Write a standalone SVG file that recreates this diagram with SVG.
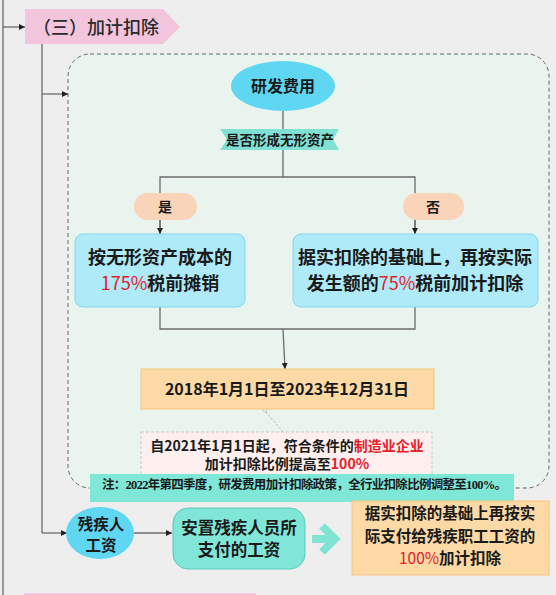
<svg xmlns="http://www.w3.org/2000/svg" width="556" height="595" viewBox="0 0 556 595">
<defs>
<marker id="ah" viewBox="0 0 6 6" refX="6" refY="3" markerWidth="6" markerHeight="6" markerUnits="userSpaceOnUse" orient="auto">
<path d="M0,0 L6,3 L0,6 Z" fill="#222"/>
</marker>
<style>
.t{font-family:"Noto Sans CJK SC","Noto Sans",sans-serif;font-weight:bold;fill:#1a1a1a;text-anchor:middle}
.r{fill:#e3202c}
.ln{fill:none;stroke:#6b6b6b;stroke-width:1.3}
.blue{fill:#aeeaf8;stroke:#86d6ea;stroke-width:1}
.org{fill:#fcd9a5;stroke:#f4c67c;stroke-width:1}
.pill{fill:#f9d4b8}
.cyan{fill:#5fd7f2}
</style>
</defs>
<rect x="0" y="0" width="556" height="595" fill="#efeeef"/>

<g id="container">
<rect x="68" y="54" width="481" height="434" rx="22" fill="#e9f4ee" stroke="#666" stroke-width="1" stroke-dasharray="4,3"/>
</g>

<g id="connectors">
<line class="ln" x1="3" y1="0" x2="3" y2="595"/>
<line class="ln" x1="3" y1="27" x2="25" y2="27" marker-end="url(#ah)"/>
<line class="ln" x1="42" y1="44" x2="42" y2="533"/>
<line class="ln" x1="42" y1="94" x2="68" y2="94" marker-end="url(#ah)"/>
<line class="ln" x1="42" y1="533" x2="67" y2="533" marker-end="url(#ah)"/>
<line class="ln" x1="283" y1="111" x2="283" y2="177"/>
<polyline class="ln" points="160,234 160,177 415,177 415,234"/>
<line class="ln" x1="160" y1="220" x2="160" y2="234" marker-end="url(#ah)"/>
<line class="ln" x1="415" y1="220" x2="415" y2="234" marker-end="url(#ah)"/>
<polyline class="ln" points="160,307 160,329 415,329 415,307"/>
<line class="ln" x1="283" y1="329" x2="285" y2="369" marker-end="url(#ah)"/>
<circle cx="265" cy="410" r="2" fill="none" stroke="#bbb" stroke-width="0.8"/>
<line x1="266" y1="412" x2="283" y2="432" stroke="#aaa" stroke-width="1" stroke-dasharray="2,2"/>
<line class="ln" x1="134" y1="533" x2="172" y2="533" marker-end="url(#ah)"/>
<path d="M312,539 H333 M322,526 L335,539 L322,552" fill="none" stroke="#80e3d3" stroke-width="8"/>
</g>

<g id="title">
<path d="M25,9 H163 L180,27 L163,44 H25 Z" fill="#f2c5dc"/>
<text x="33" y="34" font-family="Noto Sans CJK SC,sans-serif" font-size="18" font-weight="500" fill="#2a2a2a">（三）加计扣除</text>
</g>

<g id="rd">
<ellipse class="cyan" cx="283" cy="86" rx="52" ry="25"/>
<text class="t" x="283" y="92" font-size="16">研发费用</text>
</g>

<g id="question">
<path d="M220,129 H339 L333,139.5 L339,150 H220 L227,139.5 Z" fill="#7fe0d3"/>
<text class="t" x="280" y="145" font-size="13.5">是否形成无形资产</text>
</g>

<g id="yes">
<rect class="pill" x="134" y="193" width="63" height="27" rx="13.5"/>
<text class="t" x="165" y="212" font-size="14">是</text>
</g>

<g id="no">
<rect class="pill" x="403" y="193" width="61" height="27" rx="13.5"/>
<text class="t" x="433" y="212" font-size="14">否</text>
</g>

<g id="left-box">
<rect class="blue" x="75" y="234" width="170" height="73" rx="8"/>
<text class="t" x="160" y="264" font-size="18">按无形资产成本的</text>
<text class="t" x="160" y="290" font-size="18"><tspan class="r" font-weight="normal">175%</tspan>税前摊销</text>
</g>

<g id="right-box">
<rect class="blue" x="293" y="234" width="245" height="73" rx="8"/>
<text class="t" x="415" y="264" font-size="18">据实扣除的基础上，再按实际</text>
<text class="t" x="415" y="290" font-size="18">发生额的<tspan class="r" font-weight="normal">75%</tspan>税前加计扣除</text>
</g>

<g id="date">
<rect class="org" x="141" y="369" width="293" height="40"/>
<text class="t" x="287" y="395" font-size="16">2018年1月1日至2023年12月31日</text>
</g>

<g id="note2021">
<rect x="141" y="432" width="291" height="50" fill="#fcefed" stroke="#c9c9c9" stroke-width="1" stroke-dasharray="3,2"/>
<text class="t" x="287" y="451" font-size="14">自2021年1月1日起，符合条件的<tspan class="r">制造业企业</tspan></text>
<text class="t" x="287" y="469" font-size="14">加计扣除比例提高至<tspan class="r">100%</tspan></text>
</g>

<g id="note2022">
<rect x="90" y="474" width="424" height="28" fill="#7ee7d8"/>
<text x="102" y="489" font-family="Liberation Serif,Noto Sans CJK SC,serif" font-size="12.5" font-weight="bold" fill="#1a1a1a" textLength="405" lengthAdjust="spacing">注：2022年第四季度，研发费用加计扣除政策，全行业扣除比例调整至100%。</text>
</g>

<g id="disabled">
<ellipse class="cyan" cx="100" cy="533" rx="34" ry="26"/>
<text class="t" x="101" y="530" font-size="15.5">残疾人</text>
<text class="t" x="101" y="551" font-size="15.5">工资</text>
</g>

<g id="wage">
<rect x="173" y="508" width="132" height="61" rx="15" fill="#7fe6d8" stroke="#5cc9b9" stroke-width="1"/>
<text class="t" x="239" y="534" font-size="16.5">安置残疾人员所</text>
<text class="t" x="239" y="556" font-size="16.5">支付的工资</text>
</g>

<g id="deduct">
<rect class="org" x="352" y="501" width="197" height="74"/>
<text class="t" x="450" y="519" font-size="15.5">据实扣除的基础上再按实</text>
<text class="t" x="450" y="541.5" font-size="15.5">际支付给残疾职工工资的</text>
<text class="t" x="450" y="564" font-size="15.5"><tspan class="r" font-weight="normal">100%</tspan>加计扣除</text>
</g>

<g id="bottom-bar">
<rect x="24" y="593" width="232" height="4" fill="#f4c4de"/>
</g>
</svg>
